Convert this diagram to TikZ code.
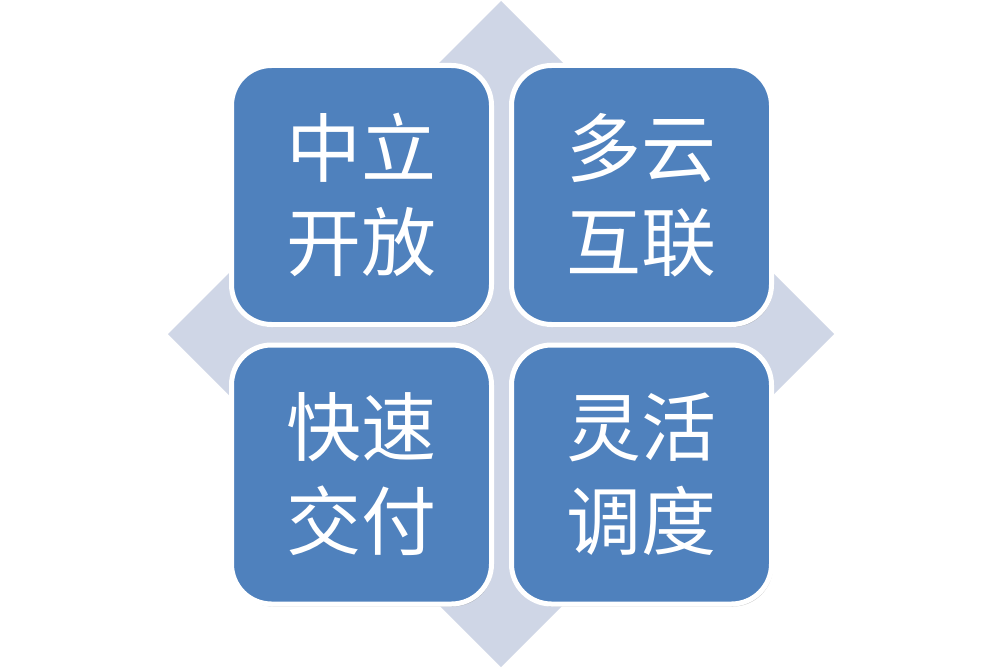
\documentclass[tikz,border=0pt]{standalone}
\usepackage{fontspec}
\newfontfamily\cjk{Noto Sans CJK SC}
\usetikzlibrary{shadows}
\definecolor{diamondfill}{RGB}{207,214,230}
\definecolor{boxblue}{RGB}{79,129,189}
\tikzset{
  tile/.style={draw=white, line width=5pt, fill=boxblue, rounded corners=40pt,
    minimum width=260pt, minimum height=259pt, inner sep=0pt,
    text=white, align=center,
    font=\cjk\fontsize{75}{94}\selectfont,
    drop shadow={shadow xshift=1.5pt, shadow yshift=-2.5pt, opacity=0.35, fill=black!60}},
}
\begin{document}
\begin{tikzpicture}[x=1pt,y=-1pt]
\useasboundingbox[fill=white] (0,0) rectangle (1002,669);
\path[fill=diamondfill] (501,1) -- (834,334) -- (501,667) -- (168,334) -- cycle;
\node[tile] (tl) at (361.5,195) {中立\\开放};
\node[tile] (tr) at (641.5,195) {多云\\互联};
\node[tile] (bl) at (361.5,474.5) {快速\\交付};
\node[tile] (br) at (641.5,474.5) {灵活\\调度};
\end{tikzpicture}
\end{document}
